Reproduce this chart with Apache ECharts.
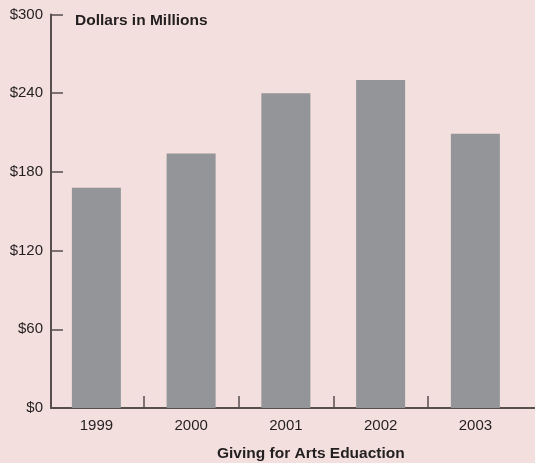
<!DOCTYPE html>
<html>
<head>
<meta charset="utf-8">
<script src="https://cdn.jsdelivr.net/npm/echarts@6/dist/echarts.min.js"></script>
<style>
  html, body { margin: 0; padding: 0; background: #f3dfdd; }
  #chart { width: 535px; height: 463px; }
</style>
</head>
<body>
<div id="chart"></div>
<script>
// Giving for arts education, 1999-2003 (dollars in millions)
const years = ['1999', '2000', '2001', '2002', '2003'];
const giving = [168, 194, 240, 250, 209];
const yTicks = { min: 0, max: 300, interval: 60 };

const ink = '#231f20';
const axisInk = '#574e4d';
const font = 'Liberation Sans, Arial, Helvetica, sans-serif';

const chart = echarts.init(document.getElementById('chart'), null, { renderer: 'canvas' });

chart.setOption({
  backgroundColor: '#f3dfdd',
  animation: false,
  title: [
    {
      text: 'Dollars in Millions',
      left: 75, top: 13, padding: 0,
      textStyle: { fontFamily: font, fontSize: 15.5, fontWeight: 'bold', color: ink }
    },
    {
      text: 'Giving for Arts Eduaction',
      left: 217, top: 446, padding: 0,
      textStyle: { fontFamily: font, fontSize: 15.5, fontWeight: 'bold', color: ink }
    }
  ],
  grid: [
    // main plotting area
    { left: 49, right: 12.25, top: 14.5, bottom: 55, containLabel: false },
    // separators between the year bands (2000..2002 span the inner boundaries)
    { left: 143.75, right: 107, top: 14.5, bottom: 55, containLabel: false },
    // baseline running to the right edge
    { left: 51, right: 0, top: 14.5, bottom: 55, containLabel: false }
  ],
  xAxis: [
    {
      type: 'category', gridIndex: 0, data: years,
      axisLine: { show: false },
      axisTick: { show: false },
      axisLabel: { margin: 10, fontFamily: font, fontSize: 15, color: ink }
    },
    {
      type: 'category', gridIndex: 1, data: years.slice(1, 4),
      axisLine: { show: false },
      axisTick: { show: true, inside: true, length: 12, lineStyle: { color: axisInk, width: 1.5 } },
      axisLabel: { show: false }
    },
    {
      type: 'category', gridIndex: 2, data: [''],
      axisLine: { show: true, lineStyle: { color: axisInk, width: 2 } },
      axisTick: { show: false },
      axisLabel: { show: false }
    }
  ],
  yAxis: [
    {
      type: 'value', gridIndex: 0, offset: -2,
      min: yTicks.min, max: yTicks.max, interval: yTicks.interval,
      axisLine: { show: true, lineStyle: { color: axisInk, width: 2 } },
      axisTick: { show: true, inside: true, length: 12, lineStyle: { color: axisInk, width: 1.5 } },
      splitLine: { show: false },
      axisLabel: {
        margin: 8, fontFamily: font, fontSize: 15, color: ink,
        formatter: v => '$' + v
      }
    },
    { type: 'value', gridIndex: 1, min: 0, max: 1, show: false },
    { type: 'value', gridIndex: 2, min: 0, max: 1, show: false }
  ],
  series: [
    {
      type: 'bar', xAxisIndex: 0, yAxisIndex: 0,
      data: giving,
      barWidth: 49,
      itemStyle: { color: '#939598' },
      z: 1
    }
  ]
});
</script>
</body>
</html>
